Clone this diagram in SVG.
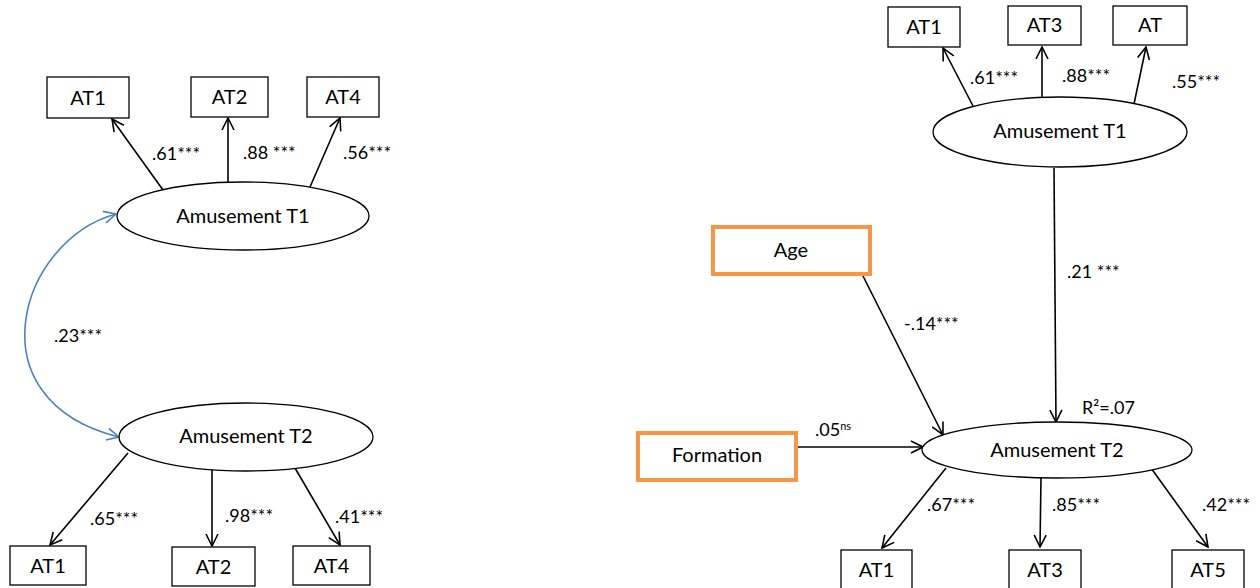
<svg xmlns="http://www.w3.org/2000/svg" width="1260" height="588" viewBox="0 0 1260 588">
<style>
.box{fill:#fff;stroke:#000;stroke-width:1.3}
.obox{fill:#fff;stroke:#F79646;stroke-width:4}
.ell{fill:#fff;stroke:#000;stroke-width:1.3}
.t{font-family:Lato,"Open Sans",sans-serif;font-size:20px;fill:#000;text-anchor:middle}
.lab{font-family:Lato,"Open Sans",sans-serif;font-size:18px;fill:#000}
.c{fill:none;stroke:#000;stroke-width:1.6}
.b{fill:none;stroke:#4F81BD;stroke-width:1.6}
</style>
<defs>
<marker id="ah" viewBox="0 0 14 14" refX="13" refY="7" markerWidth="14" markerHeight="14" markerUnits="userSpaceOnUse" orient="auto">
<path d="M1,1 L13,7 L1,13" fill="none" stroke="#000" stroke-width="1.6"/>
</marker>
<marker id="ahb" viewBox="0 0 14 14" refX="13" refY="7" markerWidth="14" markerHeight="14" markerUnits="userSpaceOnUse" orient="auto-start-reverse">
<path d="M1,1 L13,7 L1,13" fill="none" stroke="#4F81BD" stroke-width="1.6"/>
</marker>
</defs>
<rect width="1260" height="588" fill="#fff"/>
<g id="connectors">
<line class="c" x1="163" y1="190" x2="112" y2="119" marker-end="url(#ah)"/>
<line class="c" x1="228" y1="183" x2="228" y2="118" marker-end="url(#ah)"/>
<line class="c" x1="310" y1="187" x2="340" y2="118" marker-end="url(#ah)"/>
<line class="c" x1="128" y1="453" x2="50" y2="545" marker-end="url(#ah)"/>
<line class="c" x1="212" y1="470" x2="212" y2="546" marker-end="url(#ah)"/>
<line class="c" x1="295" y1="468" x2="340" y2="545" marker-end="url(#ah)"/>
<path class="b" d="M116,214 C20,240 -30,400 119,437" marker-start="url(#ahb)" marker-end="url(#ahb)"/>
<line class="c" x1="973" y1="106" x2="943" y2="48" marker-end="url(#ah)"/>
<line class="c" x1="1042" y1="100" x2="1042" y2="47" marker-end="url(#ah)"/>
<line class="c" x1="1134" y1="104" x2="1146" y2="47" marker-end="url(#ah)"/>
<line class="c" x1="1054" y1="168" x2="1056" y2="422" marker-end="url(#ah)"/>
<line class="c" x1="863" y1="276" x2="943" y2="435" marker-end="url(#ah)"/>
<line class="c" x1="798" y1="447" x2="923" y2="447" marker-end="url(#ah)"/>
<line class="c" x1="946" y1="468" x2="882" y2="548" marker-end="url(#ah)"/>
<line class="c" x1="1041" y1="478" x2="1040" y2="547" marker-end="url(#ah)"/>
<line class="c" x1="1151" y1="468" x2="1208" y2="547" marker-end="url(#ah)"/>
</g>
<g id="edge-labels">
<text class="lab" x="152" y="160">.61***</text>
<text class="lab" x="243" y="159">.88 ***</text>
<text class="lab" x="343" y="159">.56***</text>
<text class="lab" x="54" y="342">.23***</text>
<text class="lab" x="90" y="525">.65***</text>
<text class="lab" x="225" y="522">.98***</text>
<text class="lab" x="335" y="523">.41***</text>
<text class="lab" x="970" y="84">.61***</text>
<text class="lab" x="1062" y="82">.88***</text>
<text class="lab" x="1172" y="88">.55***</text>
<text class="lab" x="1067" y="278">.21 ***</text>
<text class="lab" x="904" y="330">-.14***</text>
<text class="lab" x="815" y="436">.05<tspan font-size="11" dy="-6">ns</tspan></text>
<text class="lab" x="1082" y="414">R²=.07</text>
<text class="lab" x="927" y="511">.67***</text>
<text class="lab" x="1052" y="511">.85***</text>
<text class="lab" x="1202" y="511">.42***</text>
</g>
<g id="L-AT1a"><rect class="box" x="47" y="77" width="82" height="41"/><text class="t" x="88" y="105">AT1</text></g>
<g id="L-AT2a"><rect class="box" x="191" y="77" width="77" height="40"/><text class="t" x="229.5" y="104">AT2</text></g>
<g id="L-AT4a"><rect class="box" x="307" y="77" width="72" height="40"/><text class="t" x="343" y="104">AT4</text></g>
<g id="L-T1"><ellipse class="ell" cx="243" cy="216" rx="126" ry="34"/><text class="t" x="243" y="223">Amusement T1</text></g>
<g id="L-T2"><ellipse class="ell" cx="246" cy="437" rx="127" ry="34"/><text class="t" x="246" y="443">Amusement T2</text></g>
<g id="L-AT1b"><rect class="box" x="10" y="546" width="76" height="39"/><text class="t" x="48" y="573">AT1</text></g>
<g id="L-AT2b"><rect class="box" x="172" y="547" width="83" height="39"/><text class="t" x="213.5" y="574">AT2</text></g>
<g id="L-AT4b"><rect class="box" x="293" y="546" width="77" height="39"/><text class="t" x="331.5" y="573">AT4</text></g>
<g id="R-AT1a"><rect class="box" x="888" y="7" width="72" height="40"/><text class="t" x="924" y="34">AT1</text></g>
<g id="R-AT3a"><rect class="box" x="1008" y="6" width="73" height="39"/><text class="t" x="1044.5" y="32">AT3</text></g>
<g id="R-ATa"><rect class="box" x="1113" y="6" width="74" height="39"/><text class="t" x="1150" y="32">AT</text></g>
<g id="R-T1"><ellipse class="ell" cx="1060" cy="132" rx="127" ry="35"/><text class="t" x="1060" y="138">Amusement T1</text></g>
<g id="R-Age"><rect class="obox" x="713" y="227" width="157" height="47"/><text class="t" x="791" y="257">Age</text></g>
<g id="R-Formation"><rect class="obox" x="638" y="433" width="158" height="47"/><text class="t" x="717" y="462">Formation</text></g>
<g id="R-T2"><ellipse class="ell" cx="1057" cy="450" rx="135" ry="28"/><text class="t" x="1057" y="457">Amusement T2</text></g>
<g id="R-AT1b"><rect class="box" x="841" y="550" width="71" height="42"/><text class="t" x="876.5" y="577">AT1</text></g>
<g id="R-AT3b"><rect class="box" x="1009" y="550" width="72" height="42"/><text class="t" x="1045" y="577">AT3</text></g>
<g id="R-AT5b"><rect class="box" x="1172" y="550" width="72" height="42"/><text class="t" x="1208" y="577">AT5</text></g>
</svg>
